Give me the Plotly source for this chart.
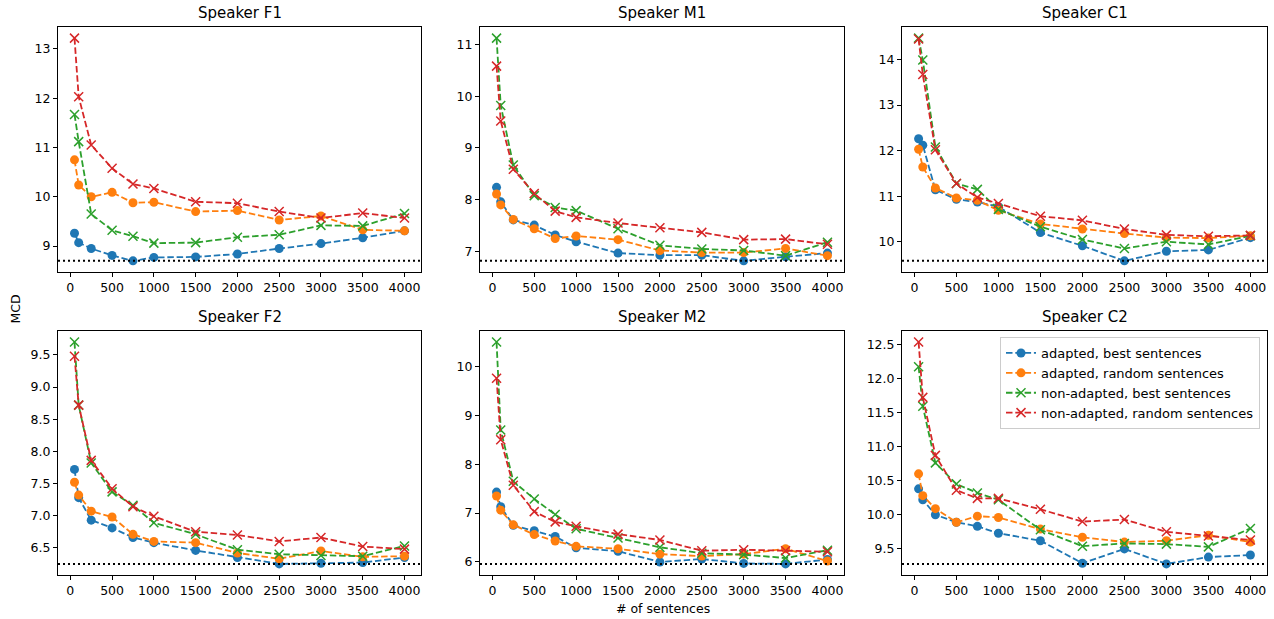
import plotly.graph_objects as go

# ---------------- data ----------------
sentences = [50, 100, 250, 500, 750, 1000, 1500, 2000, 2500, 3000, 3500, 4000]
speakers = ["Speaker F1", "Speaker M1", "Speaker C1", "Speaker F2", "Speaker M2", "Speaker C2"]
series_names = ["adapted, best sentences", "adapted, random sentences",
                "non-adapted, best sentences", "non-adapted, random sentences"]

f1_adapted_best = [9.26, 9.07, 8.95, 8.81, 8.70, 8.77, 8.78, 8.84, 8.95, 9.05, 9.17, 9.31]
f1_adapted_random = [10.75, 10.24, 10.00, 10.09, 9.88, 9.89, 9.70, 9.72, 9.53, 9.61, 9.33, 9.31]
f1_nonadapted_best = [11.67, 11.12, 9.65, 9.32, 9.20, 9.06, 9.07, 9.18, 9.23, 9.42, 9.41, 9.66]
f1_nonadapted_random = [13.22, 12.03, 11.05, 10.58, 10.26, 10.17, 9.90, 9.87, 9.70, 9.57, 9.67, 9.57]

m1_adapted_best = [8.24, 7.96, 7.61, 7.51, 7.32, 7.19, 6.97, 6.93, 6.93, 6.82, 6.90, 6.97]
m1_adapted_random = [8.11, 7.90, 7.62, 7.44, 7.25, 7.30, 7.23, 7.02, 6.98, 6.98, 7.06, 6.92]
m1_nonadapted_best = [11.12, 9.82, 8.67, 8.08, 7.85, 7.79, 7.44, 7.12, 7.05, 7.02, 6.92, 7.18]
m1_nonadapted_random = [10.58, 9.52, 8.59, 8.12, 7.78, 7.66, 7.55, 7.46, 7.37, 7.23, 7.24, 7.14]

c1_adapted_best = [12.26, 12.12, 11.14, 10.93, 10.87, 10.77, 10.20, 9.91, 9.58, 9.79, 9.82, 10.09]
c1_adapted_random = [12.03, 11.64, 11.18, 10.96, 10.91, 10.69, 10.39, 10.28, 10.18, 10.09, 10.08, 10.13]
c1_nonadapted_best = [14.47, 13.99, 12.08, 11.28, 11.15, 10.71, 10.33, 10.05, 9.85, 10.00, 9.94, 10.13]
c1_nonadapted_random = [14.45, 13.67, 12.02, 11.28, 10.97, 10.84, 10.56, 10.47, 10.28, 10.15, 10.12, 10.14]

f2_adapted_best = [7.72, 7.28, 6.93, 6.81, 6.66, 6.58, 6.46, 6.35, 6.25, 6.26, 6.27, 6.35]
f2_adapted_random = [7.52, 7.32, 7.07, 6.98, 6.71, 6.60, 6.58, 6.42, 6.33, 6.45, 6.36, 6.37]
f2_nonadapted_best = [9.70, 8.72, 7.82, 7.37, 7.16, 6.89, 6.71, 6.47, 6.40, 6.38, 6.37, 6.53]
f2_nonadapted_random = [9.48, 8.72, 7.86, 7.42, 7.14, 6.99, 6.75, 6.70, 6.60, 6.66, 6.52, 6.48]

m2_adapted_best = [7.43, 7.13, 6.75, 6.64, 6.52, 6.29, 6.22, 6.00, 6.06, 5.97, 5.96, 6.05]
m2_adapted_random = [7.35, 7.06, 6.76, 6.56, 6.43, 6.32, 6.27, 6.16, 6.12, 6.16, 6.27, 6.02]
m2_nonadapted_best = [10.50, 8.70, 7.65, 7.29, 6.97, 6.68, 6.49, 6.30, 6.18, 6.15, 6.08, 6.24]
m2_nonadapted_random = [9.76, 8.50, 7.57, 7.03, 6.82, 6.73, 6.57, 6.45, 6.23, 6.25, 6.23, 6.21]

c2_adapted_best = [10.38, 10.22, 10.00, 9.89, 9.83, 9.73, 9.62, 9.29, 9.50, 9.28, 9.38, 9.41]
c2_adapted_random = [10.60, 10.28, 10.09, 9.89, 9.98, 9.96, 9.79, 9.67, 9.60, 9.62, 9.70, 9.60]
c2_nonadapted_best = [12.17, 11.59, 10.76, 10.45, 10.32, 10.22, 9.78, 9.54, 9.58, 9.57, 9.53, 9.80]
c2_nonadapted_random = [12.53, 11.72, 10.87, 10.36, 10.24, 10.24, 10.08, 9.90, 9.93, 9.75, 9.69, 9.63]

x_ticks = [0, 500, 1000, 1500, 2000, 2500, 3000, 3500, 4000]
y_dticks = [1, 1, 1, 0.5, 1, 0.5]

panel_data = [
    [f1_adapted_best, f1_adapted_random, f1_nonadapted_best, f1_nonadapted_random],
    [m1_adapted_best, m1_adapted_random, m1_nonadapted_best, m1_nonadapted_random],
    [c1_adapted_best, c1_adapted_random, c1_nonadapted_best, c1_nonadapted_random],
    [f2_adapted_best, f2_adapted_random, f2_nonadapted_best, f2_nonadapted_random],
    [m2_adapted_best, m2_adapted_random, m2_nonadapted_best, m2_nonadapted_random],
    [c2_adapted_best, c2_adapted_random, c2_nonadapted_best, c2_nonadapted_random],
]

# ---------------- style ----------------
W, H = 1274, 619
colors = ["#1f77b4", "#ff7f0e", "#2ca02c", "#d62728"]
symbols = ["circle", "circle", "x-thin", "x-thin"]
FONT = "DejaVu Sans"

col_px = [(58, 421), (480, 844), (902, 1267)]
row_px = [(27, 272), (331, 575)]

fig = go.Figure()
layout = {}
annotations = []
shapes = []

for i, (name, series) in enumerate(zip(speakers, panel_data)):
    r, c = divmod(i, 3)
    ax = i + 1
    xa = "x" if ax == 1 else f"x{ax}"
    ya = "y" if ax == 1 else f"y{ax}"
    x0, x1 = col_px[c]
    t, b = row_px[r]
    best_line = min(series[0])
    all_vals = [v for s in series for v in s] + [best_line]
    lo, hi = min(all_vals), max(all_vals)
    pad = 0.05 * (hi - lo)
    xpad = 0.05 * (max(sentences) - min(sentences))

    for k, s in enumerate(series):
        marker = dict(symbol=symbols[k], size=9, color=colors[k])
        if k >= 2:
            marker["line"] = dict(color=colors[k], width=1.5)
        fig.add_trace(go.Scatter(
            x=sentences, y=s, mode="lines+markers", name=series_names[k],
            line=dict(color=colors[k], width=1.8, dash="6.5px,2.8px"),
            marker=marker, showlegend=(i == 5), xaxis=xa, yaxis=ya,
            legendrank=k,
        ))

    shapes.append(dict(type="line", xref=f"{xa} domain", yref=ya, x0=0, x1=1,
                       y0=best_line, y1=best_line, layer="above",
                       line=dict(color="black", width=2, dash="2px,3px")))

    axis_common = dict(showline=True, linecolor="black", linewidth=1, mirror=True,
                       ticks="outside", ticklen=4, tickwidth=1, tickcolor="black",
                       showgrid=False, zeroline=False,
                       tickfont=dict(family=FONT, size=12.5, color="black"))
    layout[("xaxis" if ax == 1 else f"xaxis{ax}")] = dict(
        domain=[x0 / W, x1 / W], anchor=ya,
        range=[min(sentences) - xpad, max(sentences) + xpad],
        tickvals=x_ticks, **axis_common)
    layout[("yaxis" if ax == 1 else f"yaxis{ax}")] = dict(
        domain=[1 - b / H, 1 - t / H], anchor=xa,
        range=[lo - pad, hi + pad], dtick=y_dticks[i],
        tickformat=".1f" if y_dticks[i] < 1 else "d", **axis_common)

    annotations.append(dict(text=name, xref="paper", yref="paper",
                            x=(x0 + x1) / 2 / W, y=1 - (t - 14) / H,
                            xanchor="center", yanchor="middle", showarrow=False,
                            font=dict(family=FONT, size=15, color="black")))

annotations.append(dict(text="MCD", xref="paper", yref="paper", x=15 / W, y=0.5,
                        textangle=-90, xanchor="center", yanchor="middle", showarrow=False,
                        font=dict(family=FONT, size=12.5, color="black")))
annotations.append(dict(text="# of sentences", xref="paper", yref="paper",
                        x=663 / W, y=1 - 608 / H, xanchor="center", yanchor="middle",
                        showarrow=False, font=dict(family=FONT, size=12.5, color="black")))

fig.update_layout(
    width=W, height=H, margin=dict(l=0, r=0, t=0, b=0),
    paper_bgcolor="white", plot_bgcolor="white",
    font=dict(family=FONT, color="black"),
    annotations=annotations, shapes=shapes,
    legend=dict(x=1260 / W, y=1 - 337 / H, xanchor="right", yanchor="top",
                bgcolor="rgba(255,255,255,0.8)", bordercolor="#cccccc", borderwidth=1,
                font=dict(family=FONT, size=13, color="black"),
                tracegroupgap=0, itemsizing="trace"),
    **layout,
)

fig.write_html("out.html", config={"displayModeBar": False},
               post_script="document.body.style.margin='0';document.body.style.overflow='hidden';")
